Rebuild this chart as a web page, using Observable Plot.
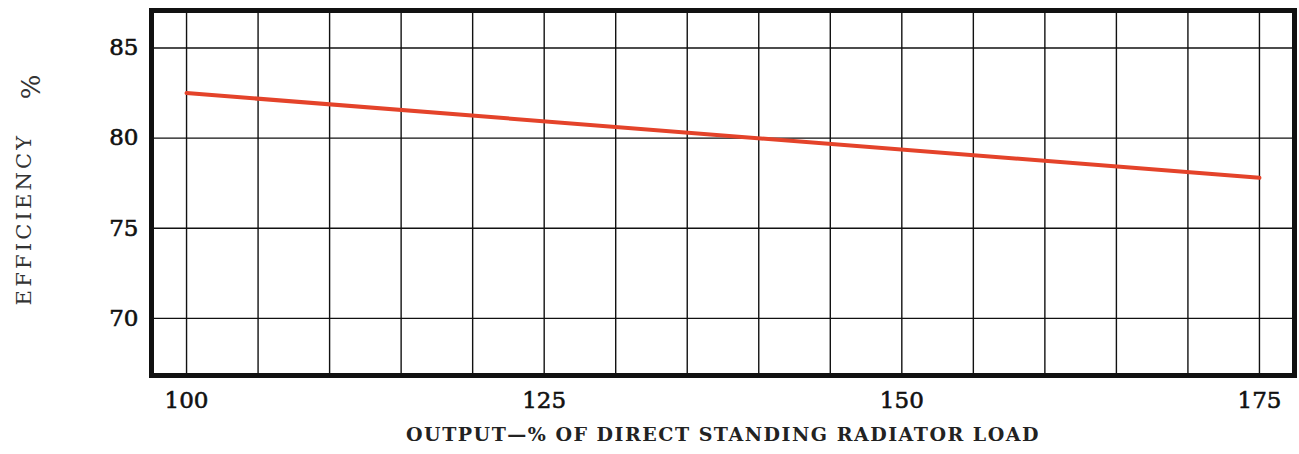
<!DOCTYPE html>
<html>
<head>
<meta charset="utf-8">
<script src="https://cdn.jsdelivr.net/npm/d3@7"></script>
<script src="https://cdn.jsdelivr.net/npm/@observablehq/plot@0.6"></script>
<style>
  html, body { margin: 0; padding: 0; background: #fff; }
  #chart svg { display: block; }
</style>
</head>
<body>
<div id="chart"></div>
<script>
// Data
const outputPct = [100, 175];          // % of direct standing radiator load
const efficiency = [82.5, 77.8];       // efficiency %
const xTicks = [100, 125, 150, 175];
const yTicks = [70, 75, 80, 85];
const xGrid = d3.range(100, 176, 5);
const yGrid = [70, 75, 80, 85];
const xTitle = "OUTPUT\u2014% OF DIRECT STANDING RADIATOR LOAD";
const yTitle = "EFFICIENCY";
const yUnit = "%";

const rows = outputPct.map((x, i) => ({x, y: efficiency[i]}));

const chart = Plot.plot({
  width: 1299,
  height: 454,
  marginLeft: 151,
  marginRight: 5,
  marginTop: 10,
  marginBottom: 79,
  style: {fontFamily: "'DejaVu Serif', serif", background: "#fff", color: "#111"},
  x: {domain: [97.55, 177.45], ticks: xTicks, tickSize: 0, tickPadding: 16, label: null, tickFormat: d => String(d)},
  y: {domain: [66.83, 87.08], ticks: yTicks, tickSize: 0, tickPadding: 13, label: null},
  marks: [
    Plot.ruleX(xGrid, {stroke: "#111", strokeWidth: 1.4}),
    Plot.ruleY(yGrid, {stroke: "#111", strokeWidth: 1.4}),
    Plot.line(rows, {x: "x", y: "y", stroke: "#e4432a", strokeWidth: 4}),
    Plot.frame({stroke: "#111", strokeWidth: 5}),
    Plot.axisX({ticks: xTicks, tickSize: 0, tickPadding: 16, fontSize: 23, tickFormat: d => String(d), label: null}),
    Plot.axisY({ticks: yTicks, tickSize: 0, tickPadding: 13, fontSize: 23, label: null}),
    Plot.text([xTitle], {frameAnchor: "bottom", dy: 65, fontSize: 19, fontWeight: "bold", fill: "#222"}),
    Plot.text([yTitle], {frameAnchor: "left", textAnchor: "middle", dx: -127, dy: 26, rotate: -90, fontSize: 21, fill: "#333"}),
    Plot.text([yUnit], {frameAnchor: "left", textAnchor: "middle", dx: -120, dy: -106, rotate: -90, fontSize: 26, fill: "#333"})
  ]
});

const sel = d3.select(chart).selectAll("text");
sel.filter(function() { return this.textContent === xTitle; }).style("letter-spacing", "1.5px");
sel.filter(function() { return this.textContent === yTitle; }).style("letter-spacing", "3.2px");
d3.select(chart).selectAll("g[aria-label$='tick label'] text").attr("stroke", "#111").attr("stroke-width", 0.6);
document.getElementById("chart").appendChild(chart);
</script>
</body>
</html>
